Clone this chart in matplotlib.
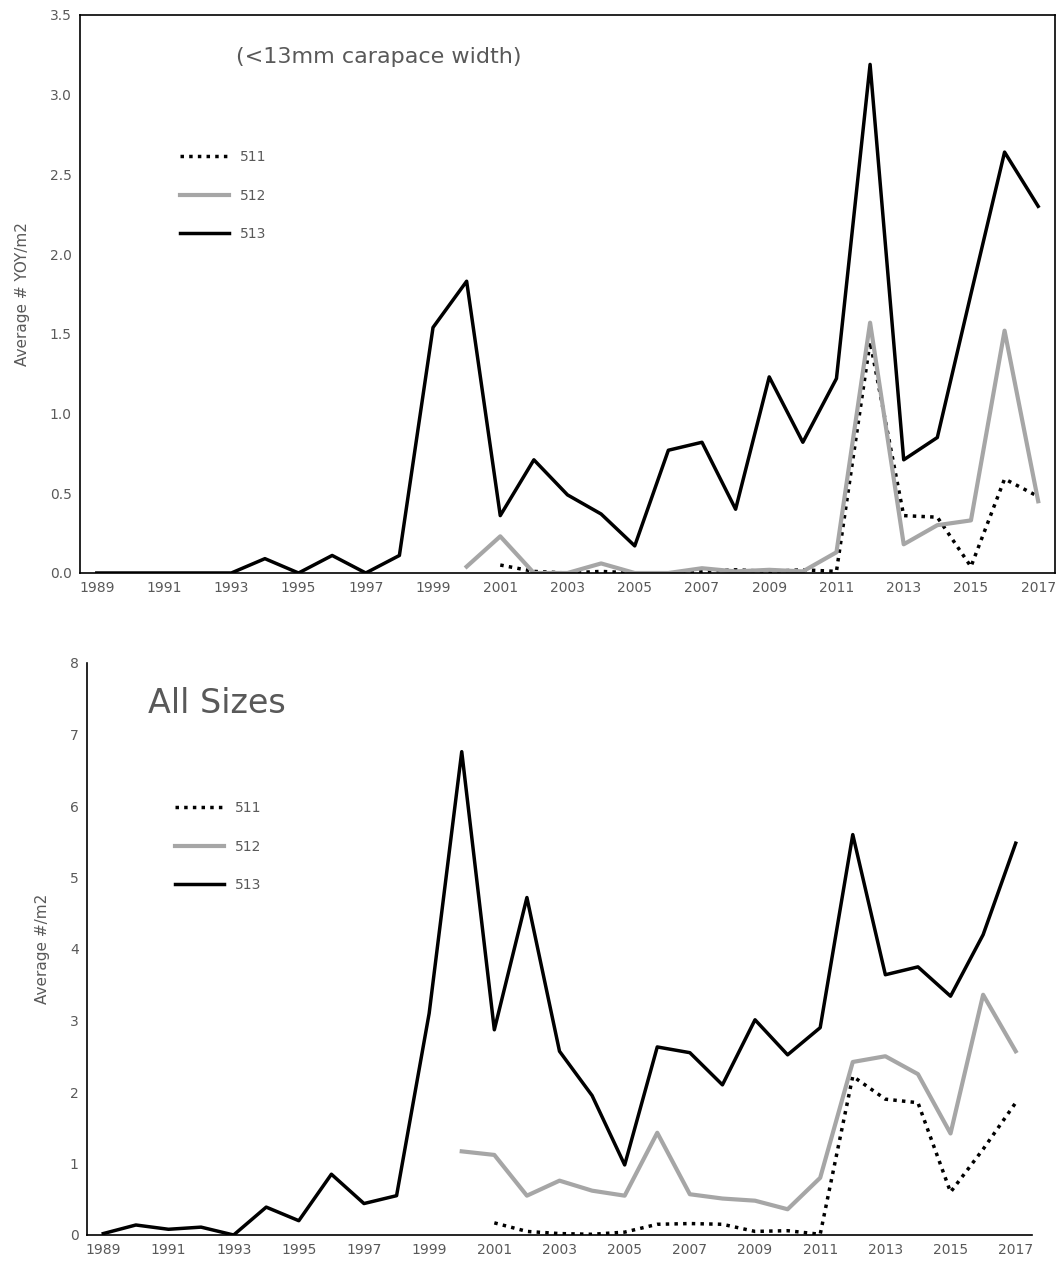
import matplotlib
matplotlib.use("Agg")
import matplotlib.pyplot as plt
import numpy as np

years = list(range(1989, 2018))
nan = np.nan

# (<13mm carapace width)
yoy_513 = [0, 0, 0, 0, 0, 0.09, 0, 0.11, 0, 0.11, 1.54, 1.83, 0.36, 0.71, 0.49, 0.37, 0.17,
           0.77, 0.82, 0.40, 1.23, 0.82, 1.22, 3.19, 0.71, 0.85, 1.75, 2.64, 2.30]
yoy_512 = [nan] * 11 + [0.04, 0.23, 0, 0, 0.06, 0, 0, 0.03, 0.01, 0.02, 0.01, 0.13, 1.57,
                        0.18, 0.30, 0.33, 1.52, 0.45]
yoy_511 = [nan] * 12 + [0.05, 0.01, 0, 0.01, 0, 0, 0.01, 0.02, 0.01, 0.02, 0.01, 1.45,
                        0.36, 0.35, 0.04, 0.59, 0.48]

# All sizes
all_513 = [0.02, 0.14, 0.08, 0.11, 0, 0.39, 0.2, 0.85, 0.44, 0.55, 3.1, 6.76, 2.87, 4.72, 2.57,
           1.95, 0.98, 2.63, 2.55, 2.1, 3.01, 2.52, 2.9, 5.6, 3.64, 3.75, 3.34, 4.2, 5.48]
all_512 = [nan] * 11 + [1.17, 1.12, 0.55, 0.76, 0.62, 0.55, 1.43, 0.57, 0.51, 0.48, 0.36, 0.8,
                        2.42, 2.5, 2.25, 1.42, 3.36, 2.57]
all_511 = [nan] * 12 + [0.17, 0.05, 0.02, 0.01, 0.04, 0.15, 0.16, 0.15, 0.05, 0.06, 0.01, 2.22,
                        1.9, 1.85, 0.6, 1.2, 1.85]

fig = plt.figure(figsize=(10.63, 12.74), dpi=100)
W, H = 1063, 1274
ax1 = fig.add_axes([80 / W, 1 - 573 / H, 975 / W, 558 / H])
ax2 = fig.add_axes([87 / W, 1 - 1235 / H, 945 / W, 572 / H])

grey = "#a6a6a6"
tcol = "#595959"


def draw(ax, s511, s512, s513, ymax, step, ylabel):
    ax.plot(years, s511, color="black", lw=2.5, ls=(0, (1, 1.5)), label="511")
    ax.plot(years, s512, color=grey, lw=3, label="512")
    ax.plot(years, s513, color="black", lw=2.5, label="513")
    ax.set_xlim(1989 - 0.5, 2017 + 0.5)
    ax.set_ylim(0, ymax)
    ax.set_xticks(years[::2])
    ax.set_yticks(np.arange(0, ymax + 0.001, step))
    ax.tick_params(length=0, labelsize=10, colors=tcol, pad=6)
    ax.set_ylabel(ylabel, fontsize=11, color=tcol, labelpad=14)
    for sp in ax.spines.values():
        sp.set_color("black")
        sp.set_linewidth(1.2)


draw(ax1, yoy_511, yoy_512, yoy_513, 3.5, 0.5, "Average # YOY/m2")
ax1.yaxis.set_major_formatter(matplotlib.ticker.FormatStrFormatter("%.1f"))
ax1.text(0.16, 0.925, "(<13mm carapace width)", transform=ax1.transAxes,
         fontsize=16, color=tcol, va="center")
ax1.legend(loc="upper left", bbox_to_anchor=(0.09, 0.78), frameon=False, fontsize=10,
           labelcolor=tcol, handlelength=3.5, labelspacing=1.75)

draw(ax2, all_511, all_512, all_513, 8, 1, "Average #/m2")
ax2.spines["top"].set_visible(False)
ax2.spines["right"].set_visible(False)
ax2.text(0.065, 0.93, "All Sizes", transform=ax2.transAxes,
         fontsize=24, color=tcol, va="center")
ax2.legend(loc="upper left", bbox_to_anchor=(0.08, 0.78), frameon=False, fontsize=10,
           labelcolor=tcol, handlelength=3.5, labelspacing=1.75)

fig.savefig("out.png", dpi=100)
